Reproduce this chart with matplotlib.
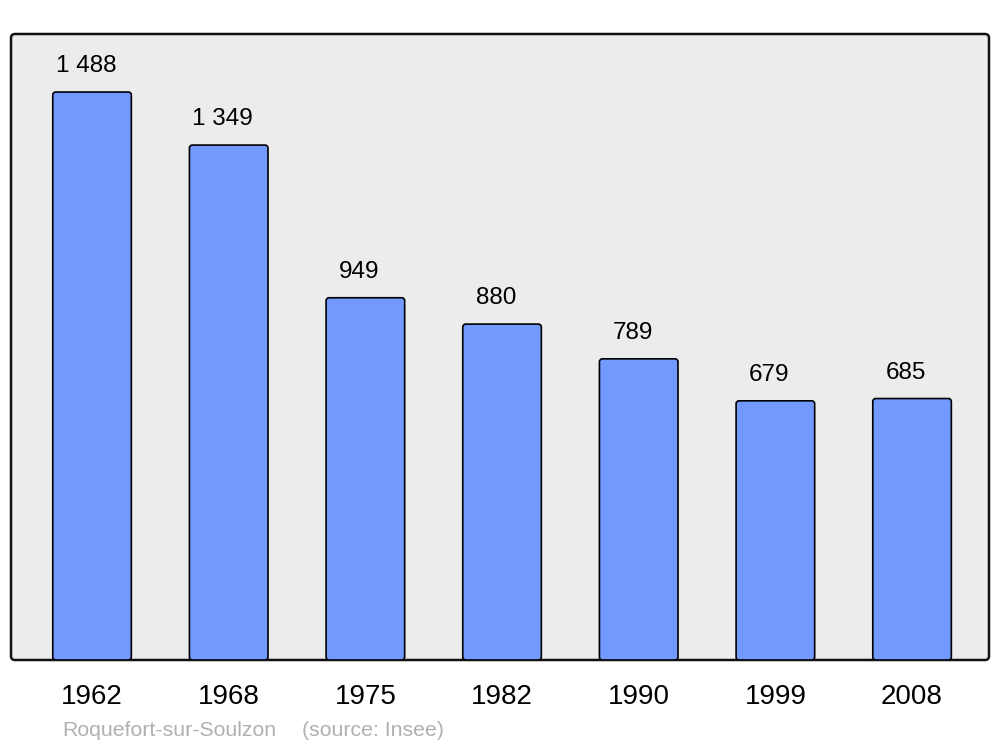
import matplotlib
matplotlib.use("Agg")
import matplotlib.pyplot as plt
from matplotlib.patches import FancyBboxPatch

years = ["1962", "1968", "1975", "1982", "1990", "1999", "2008"]
population = [1488, 1349, 949, 880, 789, 679, 685]
value_labels = ["1 488", "1 349", "949", "880", "789", "679", "685"]
commune = "Roquefort-sur-Soulzon"
source = "(source: Insee)"

plt.rcParams['font.family'] = ['Liberation Sans', 'DejaVu Sans']

W, H = 1000, 747
fig = plt.figure(figsize=(W / 100, H / 100), dpi=100)
ax = fig.add_axes([11 / W, 87 / H, 978 / W, 626 / H])
ax.set_facecolor('none')

# rounded background frame (in inches so corners stay round)
frame = FancyBboxPatch((11 / 100, 87 / 100), 978 / 100, 626 / 100,
                       boxstyle="round,pad=0,rounding_size=0.04",
                       transform=fig.dpi_scale_trans, facecolor='#ececec',
                       edgecolor='#111111', linewidth=1.8, zorder=0,
                       clip_on=False)
ax.add_artist(frame)

x = list(range(len(years)))
bars = ax.bar(x, population, width=0.575, color='#7399ff',
              edgecolor='black', linewidth=1.2)
ax.set_xlim(-0.593, 6.563)
ax.set_ylim(0, 1640)

px_x = 978 / (6.563 + 0.593)
px_y = 626 / 1640
aspect = px_x / px_y
for b in bars:
    b.set_visible(False)
    rr = 3 / px_x
    p = FancyBboxPatch((b.get_x(), b.get_y()), b.get_width(), b.get_height(),
                       boxstyle=f"round,pad=0,rounding_size={rr}",
                       mutation_aspect=aspect, facecolor='#7399ff',
                       edgecolor='black', linewidth=1.2, zorder=2)
    ax.add_patch(p)

for xi, v, lab in zip(x, population, value_labels):
    ax.annotate(lab, (xi, v), xytext=(-6, 15), textcoords='offset pixels',
                ha='center', va='bottom', fontsize=17.5, color='black',
                zorder=3)

for s in ax.spines.values():
    s.set_visible(False)
ax.set_yticks([])
ax.set_xticks(x)
ax.set_xticklabels(years, fontsize=20)
ax.tick_params(axis='x', length=0, pad=17)

fig.text(62 / W, 1 - 730 / H, commune, fontsize=15.3, color='#b0b0b0',
         ha='left', va='center')
fig.text(302 / W, 1 - 730 / H, source, fontsize=15.3, color='#b0b0b0',
         ha='left', va='center')

fig.savefig('out.png', dpi=100)
